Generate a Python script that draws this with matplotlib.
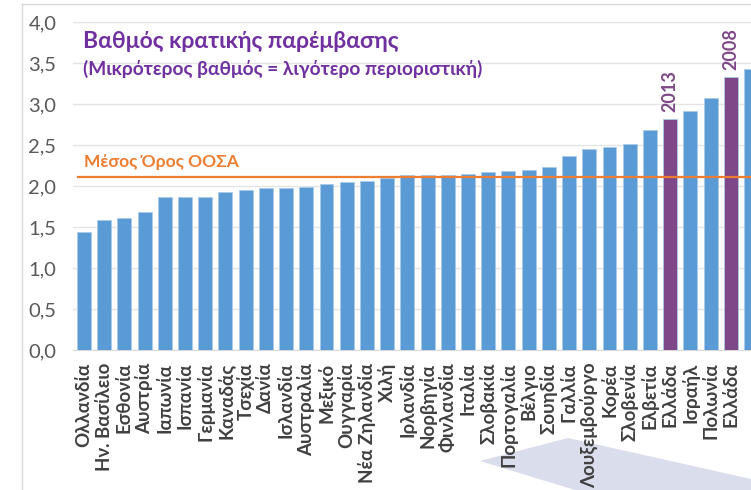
import numpy as np
import matplotlib
matplotlib.use('Agg')
from matplotlib import pyplot as plt
from matplotlib.patches import Polygon
from matplotlib.lines import Line2D

plt.rcParams['font.family'] = ['Lato', 'DejaVu Sans']

# countries (the last bar is cut off at the right edge of the screenshot, its label unreadable)
countries = ['Ολλανδία', 'Ην. Βασίλειο', 'Εσθονία', 'Αυστρία', 'Ιαπωνία', 'Ισπανία',
             'Γερμανία', 'Καναδάς', 'Τσεχία', 'Δανία', 'Ισλανδία', 'Αυστραλία',
             'Μεξικό', 'Ουγγαρία', 'Νέα Ζηλανδία', 'Χιλή', 'Ιρλανδία', 'Νορβηγία',
             'Φινλανδία', 'Ιταλία', 'Σλοβακία', 'Πορτογαλία', 'Βέλγιο', 'Σουηδία',
             'Γαλλία', 'Λουξεμβούργο', 'Κορέα', 'Σλοβενία', 'Ελβετία', 'Ελλάδα',
             'Ισραήλ', 'Πολωνία', 'Ελλάδα', '']
scores = [1.44, 1.58, 1.61, 1.68, 1.86, 1.86, 1.87, 1.93, 1.95, 1.97, 1.98, 1.99,
          2.02, 2.05, 2.06, 2.10, 2.13, 2.13, 2.14, 2.15, 2.17, 2.18, 2.20, 2.23,
          2.37, 2.45, 2.47, 2.51, 2.68, 2.82, 2.92, 3.07, 3.33, 3.43]
greece_idx = [29, 32]
greece_years = ['2013', '2008']
oecd_mean = 2.11

blue = '#5B9BD5'
purple = '#7E4888'
title_purple = '#7030A0'
orange = '#ED7D31'

W, H = 751, 490
fig = plt.figure(figsize=(W / 100, H / 100), dpi=100)
ax = fig.add_axes([73 / W, (H - 350) / H, (W - 73) / W, 328 / H])

x = np.arange(len(countries))
colors = [purple if i in greece_idx else blue for i in x]
ax.bar(x, scores, width=0.69, color=colors, edgecolor='#A9CBEA', linewidth=0.6, zorder=3)

ax.axhline(oecd_mean, xmin=(-0.30 + 0.54) / 33.28, xmax=1, color=orange, linewidth=1.6, zorder=4)

ax.set_xlim(-0.54, 32.74)
ax.set_ylim(0, 4.0)
ax.set_yticks(np.arange(0, 4.01, 0.5))
ax.set_yticklabels([f'{v:.1f}'.replace('.', ',') for v in np.arange(0, 4.01, 0.5)])
ax.set_xticks(x)
ax.set_xticklabels(countries, rotation=90, fontweight='bold', color='#404040', fontsize=13.5)
ax.tick_params(axis='y', length=0, pad=12, labelsize=14.5, labelcolor='#595959')
ax.tick_params(axis='x', length=0, pad=9)
ax.grid(axis='y', color='#E4E4E4', linewidth=1, zorder=0)
for s in ['top', 'right', 'left']:
    ax.spines[s].set_visible(False)
ax.spines['bottom'].set_color('#D9D9D9')

for i, yr in zip(greece_idx, greece_years):
    ax.text(i, scores[i] + 0.08, yr, rotation=90, ha='center', va='bottom',
            color=purple, fontweight='bold', fontsize=13)

ax.text(-0.05, 3.68, 'Βαθμός κρατικής παρέμβασης', color=title_purple,
        fontweight='bold', fontsize=16.5, va='baseline')
ax.text(-0.05, 3.35, '(Μικρότερος βαθμός = λιγότερο περιοριστική)', color=title_purple,
        fontweight='bold', fontsize=13.8, va='baseline')
ax.text(0.0, 2.23, 'Μέσος Όρος ΟΟΣΑ', color=orange, fontweight='bold',
        fontsize=12.5, va='baseline')

# outer chart frame
fig.add_artist(Line2D([22 / W, 22 / W], [0, (H - 4) / H], color='#D9D9D9', linewidth=1))
fig.add_artist(Line2D([22 / W, 1], [(H - 4) / H, (H - 4) / H], color='#D9D9D9', linewidth=1))

# decorative shape at the bottom
shape = [(480, 461), (568, 438), (751, 479), (751, 490), (575, 490)]
fig.add_artist(Polygon([(px / W, (H - py) / H) for px, py in shape], closed=True,
                       facecolor='#D9DDEC', edgecolor='none', zorder=-1))

fig.savefig('out.png', dpi=100)
